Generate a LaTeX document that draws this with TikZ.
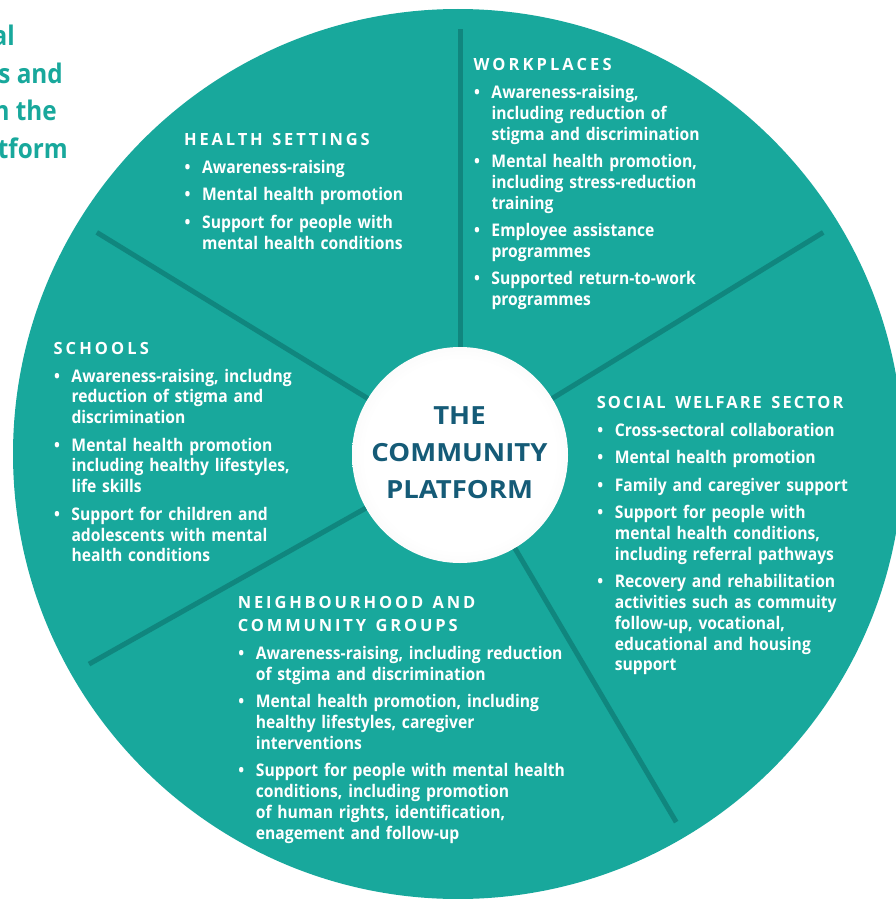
\documentclass[tikz,border=0pt]{standalone}
\usepackage{fontspec}
\newfontfamily\bodyfont{Open Sans}[FakeStretch=0.9]
\newfontfamily\headfont{Open Sans}[FakeStretch=0.98]
\newfontfamily\centerfont{Open Sans}[FakeStretch=1.1]
\definecolor{discteal}{RGB}{24,168,156}
\definecolor{spokecol}{RGB}{16,134,126}
\definecolor{centertext}{RGB}{21,91,119}
\definecolor{ballgray}{RGB}{188,188,188}
\definecolor{ballmid}{RGB}{236,236,236}
\pgfdeclareradialshading{ball}{\pgfpoint{0bp}{0bp}}{color(0bp)=(white); color(22bp)=(white); color(38bp)=(ballmid); color(50bp)=(ballgray); color(100bp)=(ballgray)}
\newcommand\hd[2][17]{{\headfont\bfseries\fontsize{16.8}{23.4}\selectfont\addfontfeature{LetterSpace=#1}\spaceskip=9.5pt\relax\rule{0pt}{15pt}#2\par}}
\newcommand\bitem[1]{\par\vspace{6.7pt}{\hangindent=18pt\hangafter=1\noindent\let\\\newline\makebox[18pt][l]{\hspace{0.5pt}\textbullet}#1\par}}
\tikzset{
  blk/.style={anchor=north west, inner sep=0pt, text width=420pt, text=white,
    font=\bodyfont\bfseries\fontsize{17.4}{20.8}\selectfont, execute at begin node=\raggedright},
  spoke/.style={draw=spokecol, line width=5pt},
  frag/.style={anchor=base east, inner sep=0pt, text=discteal, font=\bodyfont\bfseries\fontsize{27}{37}\selectfont},
  ctext/.style={anchor=base, inner sep=0pt, text=centertext, font=\centerfont\bfseries\fontsize{25}{37}\selectfont}
}
\begin{document}
\begin{tikzpicture}[x=1pt,y=-1pt]
\useasboundingbox (0,0) rectangle (896,899);
\fill[white] (0,0) rectangle (896,899);
% fragments of title on the left
\node[frag] (t1) at (15,46) {al};
\node[frag] (t2) at (63,83) {s and};
\node[frag] (t3) at (57,120) {n the};
\node[frag] (t4) at (68,158) {tform};
% big disc
\node[circle, fill=discteal, minimum size=890pt, inner sep=0pt] (disc) at (458,454) {};
% centre ball
\node[circle, minimum size=216pt, inner sep=0pt, shading=ball] (c) at (460,455) {};
\node[ctext] (c1) at (459.5,424) {THE};
\node[ctext] (c2) at (459.5,461) {COMMUNITY};
\node[ctext] (c3) at (459.5,498.3) {PLATFORM};
% spokes
\coordinate (s1) at (460,29);
\coordinate (s2) at (823.2,232.4);
\coordinate (s3) at (676.2,822.1);
\coordinate (s4) at (89,664.1);
\coordinate (s5) at (96.8,232.4);
\foreach \s in {s1,s2,s3,s4,s5}{\draw[spoke] (c) -- (\s);}
% blocks
\node[blk] (hs) at (184,130.7) {%
\hd{HEALTH SETTINGS}
\bitem{Awareness-raising}
\bitem{Mental health promotion}
\bitem{Support for people with\\mental health conditions}};
\node[blk] (wp) at (473.3,55.7) {%
\hd[18.5]{WORKPLACES}
\bitem{Awareness-raising,\\including reduction of\\stigma and discrimination}
\bitem{Mental health promotion,\\including stress-reduction\\training}
\bitem{Employee assistance\\programmes}
\bitem{Supported return-to-work\\programmes}};
\node[blk] (sc) at (53.3,339.3) {%
\hd[18.5]{SCHOOLS}
\bitem{Awareness-raising, includng\\reduction of stigma and\\discrimination}
\bitem{Mental health promotion\\including healthy lifestyles,\\life skills}
\bitem{Support for children and\\adolescents with mental\\health conditions}};
\node[blk] (sw) at (596.7,393.3) {%
\hd[12]{SOCIAL WELFARE SECTOR}
\bitem{Cross-sectoral collaboration}
\bitem{Mental health promotion}
\bitem{Family and caregiver support}
\bitem{Support for people with\\mental health conditions,\\including referral pathways}
\bitem{Recovery and rehabilitation\\activities such as commuity\\follow-up, vocational,\\educational and housing\\support}};
\node[blk] (nb) at (237.7,593.3) {%
\hd{NEIGHBOURHOOD AND\\COMMUNITY GROUPS}
\bitem{Awareness-raising, including reduction\\of stgima and discrimination}
\bitem{Mental health promotion, including\\healthy lifestyles, caregiver\\interventions}
\bitem{Support for people with mental health\\conditions, including promotion\\of human rights, identification,\\enagement and follow-up}};
\end{tikzpicture}
\end{document}
